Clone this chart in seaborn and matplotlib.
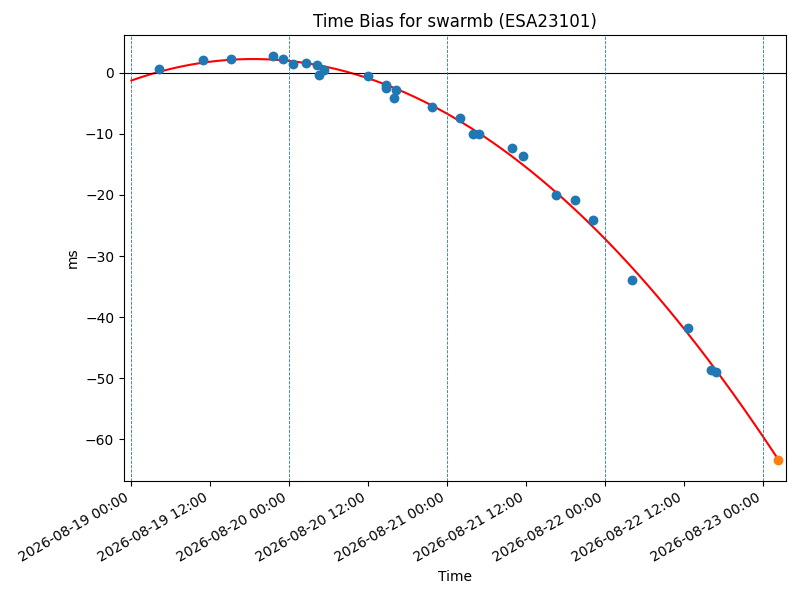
import numpy as np
import pandas as pd
import matplotlib
matplotlib.use('Agg')
import matplotlib.pyplot as plt
import matplotlib.dates as mdates
import seaborn as sns

# Observed time bias (ms) for swarmb
obs_times = [
    '2026-08-19 04:12', '2026-08-19 10:54', '2026-08-19 15:09', '2026-08-19 21:30',
    '2026-08-19 23:04', '2026-08-20 00:32', '2026-08-20 02:34', '2026-08-20 04:09',
    '2026-08-20 04:32', '2026-08-20 05:18', '2026-08-20 11:57', '2026-08-20 14:44',
    '2026-08-20 14:45', '2026-08-20 15:54', '2026-08-20 16:15', '2026-08-20 21:44',
    '2026-08-21 02:03', '2026-08-21 03:58', '2026-08-21 04:53', '2026-08-21 09:54',
    '2026-08-21 11:38', '2026-08-21 16:36', '2026-08-21 19:29', '2026-08-21 22:14',
    '2026-08-22 04:10', '2026-08-22 12:41', '2026-08-22 16:08', '2026-08-22 16:56',
]
obs_bias = [
    0.6, 2.08, 2.25, 2.78,
    2.25, 1.42, 1.63, 1.26,
    -0.38, 0.49, -0.54, -1.96,
    -2.5, -4.11, -2.82, -5.57,
    -7.38, -9.99, -9.99, -12.28,
    -13.56, -19.98, -20.91, -24.18,
    -33.98, -41.7, -48.68, -49.0,
]

# Predicted point
pred_time = '2026-08-23 02:20'
pred_bias = -63.43

start = pd.Timestamp('2026-08-19 00:00')
day_marks = ['2026-08-19', '2026-08-20', '2026-08-21', '2026-08-22', '2026-08-23']


def main():
    df = pd.DataFrame({'time': pd.to_datetime(obs_times), 'bias': obs_bias})
    t_pred = pd.Timestamp(pred_time)

    # quadratic fit of the bias
    hours = (df['time'] - start).dt.total_seconds() / 3600
    coef = np.polyfit(hours, df['bias'], 2)
    end_h = (t_pred - start).total_seconds() / 3600
    fit_h = np.linspace(0, end_h, 200)
    fit = pd.DataFrame({'time': start + pd.to_timedelta(fit_h, unit='h'),
                        'bias': np.polyval(coef, fit_h)})

    fig, ax = plt.subplots(figsize=(8, 6), dpi=100)
    sns.lineplot(x='time', y='bias', data=fit, color='red', ax=ax, lw=1.5)
    sns.scatterplot(x='time', y='bias', data=df, color='tab:blue', s=50,
                    linewidth=0, ax=ax, zorder=3)
    sns.scatterplot(x=[t_pred], y=[pred_bias], color='tab:orange', s=50,
                    linewidth=0, ax=ax, zorder=3)

    ax.axhline(0, color='black', lw=0.8)
    for d in day_marks:
        ax.axvline(pd.Timestamp(d), color='tab:blue', ls='--', lw=0.6)

    ax.set_xlim(start - pd.Timedelta(hours=1.13), start + pd.Timedelta(hours=99.5))
    ax.xaxis.set_major_locator(mdates.HourLocator(byhour=[0, 12]))
    ax.xaxis.set_major_formatter(mdates.DateFormatter('%Y-%m-%d %H:%M'))
    fig.autofmt_xdate()

    ax.set_title('Time Bias for swarmb (ESA23101)')
    ax.set_xlabel('Time')
    ax.set_ylabel('ms')
    fig.subplots_adjust(left=0.155, right=0.982, top=0.941, bottom=0.199)
    plt.savefig('out.png')
    plt.close()


if __name__ == "__main__":
    main()
